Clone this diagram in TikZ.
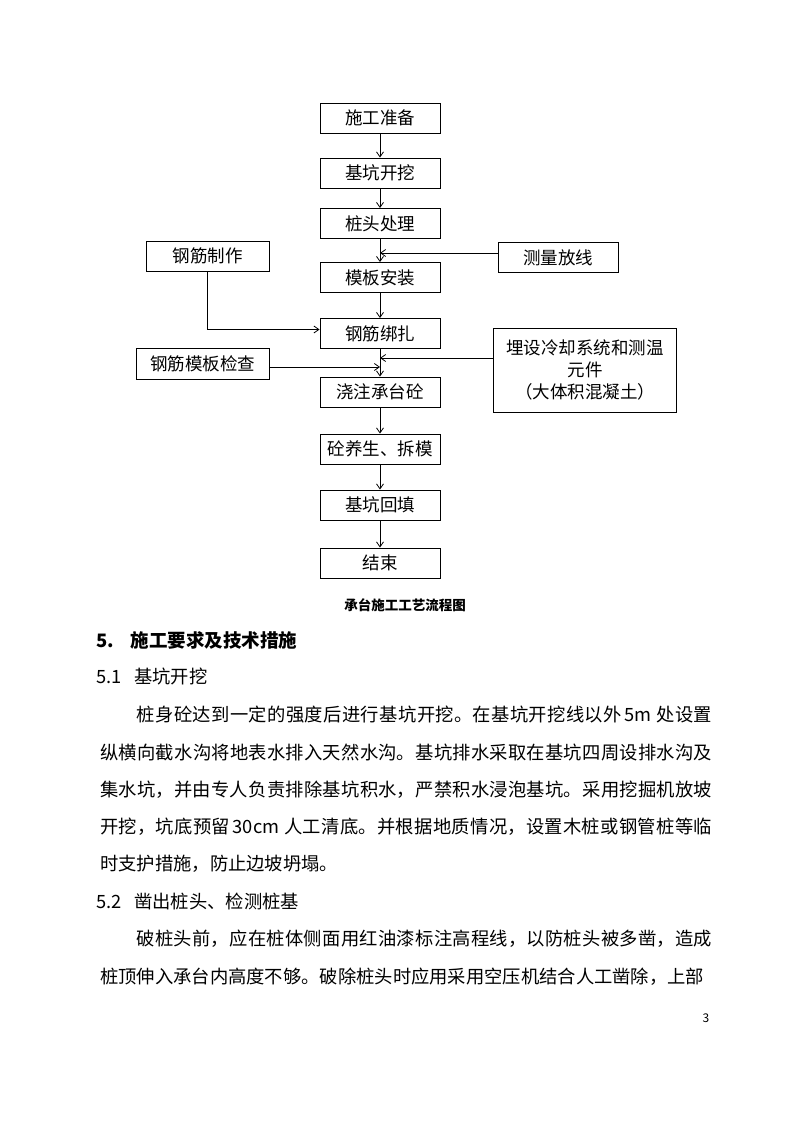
\documentclass[tikz,border=0pt]{standalone}
\usepackage{fontspec}
\newfontfamily\cjk{Noto Sans CJK SC}
\usetikzlibrary{arrows.meta}
\XeTeXlinebreaklocale "zh"
\XeTeXlinebreakskip=0pt plus 1pt minus 0.3pt

\begin{document}
\begin{tikzpicture}[x=1pt, y=-1pt,
    flowbox/.style={draw, line width=0.9pt, minimum width=120pt, minimum height=30pt, inner sep=0pt, font=\cjk\fontsize{17.5}{22}\selectfont},
    arr/.style={-{Straight Barb[length=5pt,width=7pt]}, line width=0.8pt},
    body/.style={anchor=north west, inner sep=0pt, text width=612pt, align=justify, font=\cjk\fontsize{18.3}{37.3}\selectfont}]
    \path[use as bounding box, fill=white] (0,0) rectangle (794,1123);

    \node[flowbox] (prep) at (380,118) {施工准备};
    \node[flowbox] (dig) at (380,173) {基坑开挖};
    \node[flowbox] (pile) at (380,223.5) {桩头处理};
    \node[flowbox] (form) at (380,277.5) {模板安装};
    \node[flowbox] (bind) at (380,333.5) {钢筋绑扎};
    \node[flowbox] (pour) at (380,392) {浇注承台砼};
    \node[flowbox] (cure) at (380,449) {砼养生、拆模};
    \node[flowbox] (fill) at (380,505) {基坑回填};
    \node[flowbox] (finish) at (380,563) {结束};

    \node[flowbox, minimum width=123pt] (rebar) at (207.5,256) {钢筋制作};
    \node[flowbox] (meas) at (558,257.5) {测量放线};
    \node[flowbox, minimum width=133pt, minimum height=31pt] (check) at (202.5,363.5) {钢筋模板检查};
    \node[flowbox, minimum width=183pt, minimum height=84pt, align=center] (cool) at (585,370) {埋设冷却系统和测温\\元件\\（大体积混凝土）};

    \coordinate (j1) at (380,253);
    \coordinate (j3) at (380,358);
    \coordinate (j4) at (380,367);

    \draw[arr] (prep) -- (dig);
    \draw[arr] (dig) -- (pile);
    \draw[arr] (pile) -- (form);
    \draw[arr] (form) -- (bind);
    \draw[arr] (bind) -- (pour);
    \draw[arr] (pour) -- (cure);
    \draw[arr] (cure) -- (fill);
    \draw[arr] (fill) -- (finish);
    \draw[arr] (meas.west |- j1) -- (j1);
    \draw[arr] (rebar.south) |- ([yshift=4pt]bind.west);
    \draw[arr] (cool.west |- j3) -- (j3);
    \draw[arr] (check.east |- j4) -- (j4);

    \node[font=\cjk\bfseries\fontsize{13.5}{15}\selectfont] (cap) at (405,605) {承台施工工艺流程图};

    \node[anchor=west, inner sep=0pt, font=\cjk\bfseries\fontsize{18.5}{20}\selectfont] (h5) at (96,640) {5.\hspace{0.9em}施工要求及技术措施};
    \node[anchor=west, inner sep=0pt, font=\cjk\fontsize{18.3}{20}\selectfont] (h51) at (96,677) {5.1\hspace{0.7em}基坑开挖};
    \node[body] (para1) at (100,706) {\baselineskip=37.3pt\noindent\hspace*{2em}桩身砼达到一定的强度后进行基坑开挖。在基坑开挖线以外\hspace{0.15em}5m 处设置\linebreak
纵横向截水沟将地表水排入天然水沟。基坑排水采取在基坑四周设排水沟及\linebreak
集水坑，并由专人负责排除基坑积水，严禁积水浸泡基坑。采用挖掘机放坡\linebreak
开挖，坑底预留\hspace{0.15em}30cm 人工清底。并根据地质情况，设置木桩或钢管桩等临\linebreak
时支护措施，防止边坡坍塌。};
    \node[anchor=west, inner sep=0pt, font=\cjk\fontsize{18.3}{20}\selectfont] (h52) at (96,901) {5.2\hspace{0.7em}凿出桩头、检测桩基};
    \node[body] (para2) at (100,930) {\baselineskip=37.3pt\parfillskip=0pt\noindent\hspace*{2em}破桩头前，应在桩体侧面用红油漆标注高程线，以防桩头被多凿，造成\linebreak
桩顶伸入承台内高度不够。破除桩头时应用采用空压机结合人工凿除，上部};

    \node[font=\cjk\fontsize{12}{14}\selectfont] (pno) at (706,1018) {3};
\end{tikzpicture}
\end{document}
